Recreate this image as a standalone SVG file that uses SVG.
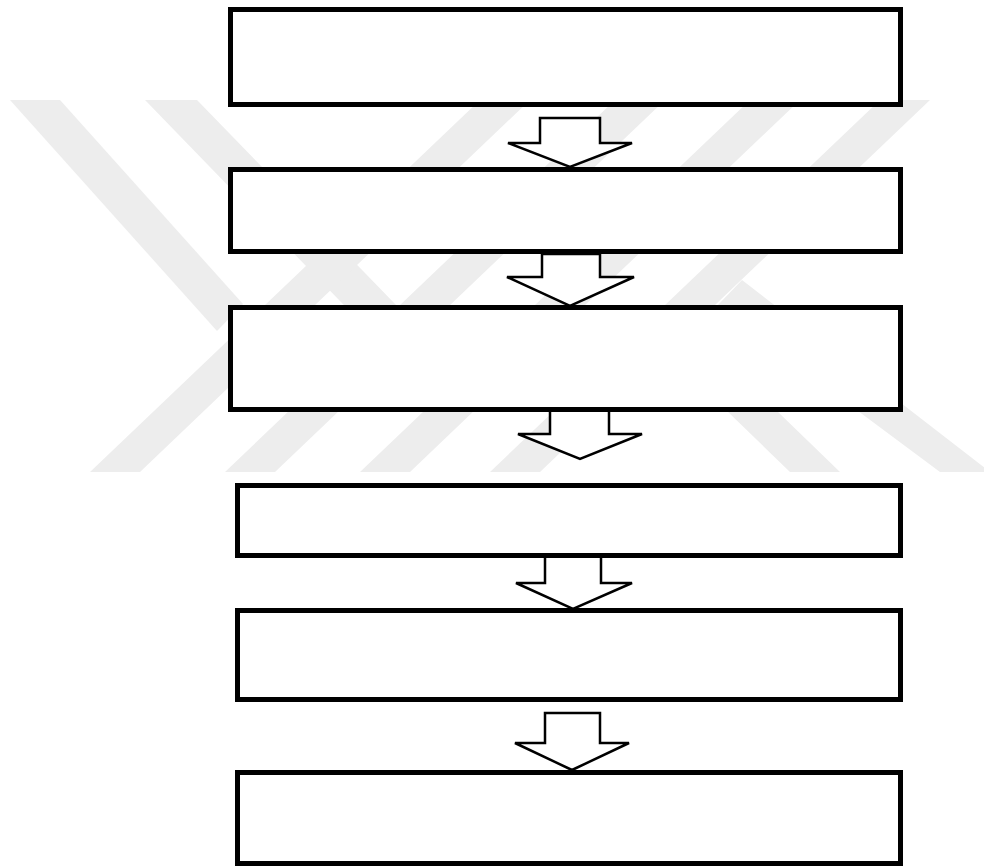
<svg xmlns="http://www.w3.org/2000/svg" width="984" height="867" viewBox="0 0 984 867">
<style>
.wm{fill:#ededed;stroke:none}
.box{fill:#ffffff;stroke:#000000;stroke-width:5}
.arr{fill:#ffffff;stroke:#000000;stroke-width:2.5;stroke-linejoin:miter}
</style>
<rect x="0" y="0" width="984" height="867" fill="#ffffff"/>
<g id="watermark">
<polygon class="wm" points="10,100 60,100 243,304 217,331"/>
<polygon class="wm" points="145,100 197,100 398,307 372,334"/>
<polygon class="wm" points="90,472 140,472 530,100 480,100"/>
<polygon class="wm" points="225,472 275,472 665,100 615,100"/>
<polygon class="wm" points="360,472 410,472 800,100 750,100"/>
<polygon class="wm" points="490,472 540,472 930,100 880,100"/>
<polygon class="wm" points="666,352 691,328 840,472 790,472"/>
<polygon class="wm" points="717,306 742,280 990,472 940,472"/>
</g>
<g id="connectors">
<polygon class="arr" points="540,118 600,118 600,143 632,143 570,167 508,143 540,143"/>
<polygon class="arr" points="542,254 600,254 600,277 634,277 570,306 507,277 542,277"/>
<polygon class="arr" points="550,410 609,410 609,434 642,434 580,459 518,434 550,434"/>
<polygon class="arr" points="545,556 601,556 601,583 632,583 573,609 516,583 545,583"/>
<polygon class="arr" points="545,713 600,713 600,743 629,743 572,770 515,743 545,743"/>
</g>
<g id="node1"><rect class="box" x="230.5" y="9.5" width="670" height="95"/></g>
<g id="node2"><rect class="box" x="230.5" y="169.5" width="670" height="82"/></g>
<g id="node3"><rect class="box" x="230.5" y="307.5" width="670" height="102"/></g>
<g id="node4"><rect class="box" x="237.5" y="485.5" width="663" height="70"/></g>
<g id="node5"><rect class="box" x="237.5" y="610.5" width="663" height="89"/></g>
<g id="node6"><rect class="box" x="237.5" y="772.5" width="663" height="91"/></g>
</svg>
